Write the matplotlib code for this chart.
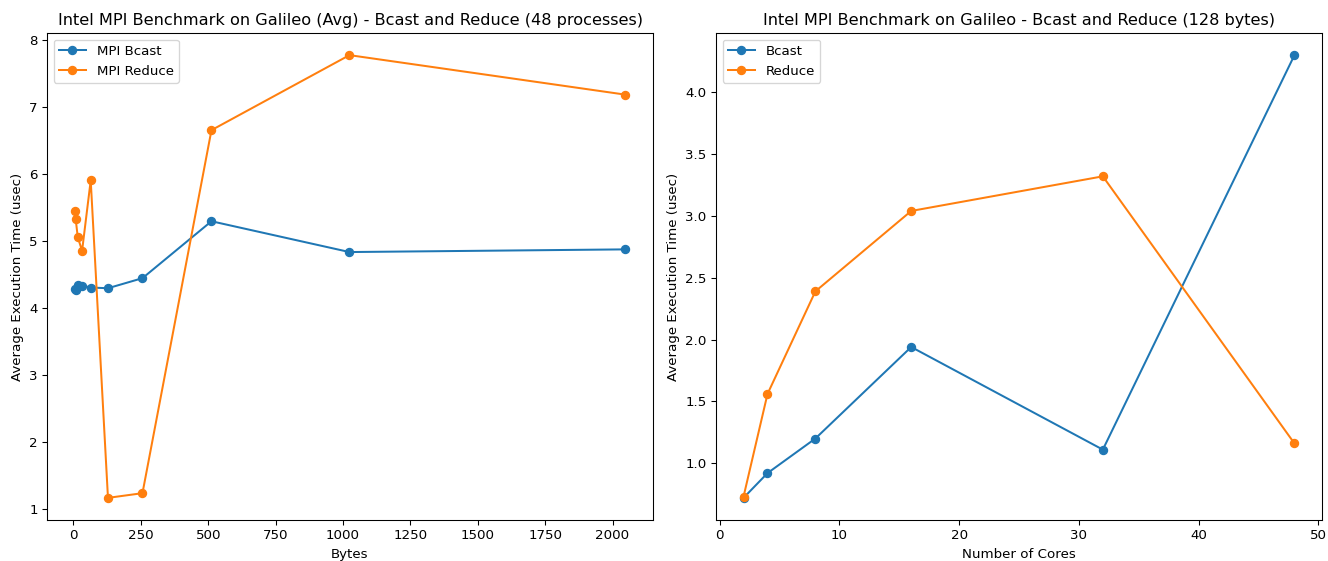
import matplotlib
matplotlib.use("Agg")
import matplotlib.pyplot as plt

# Left chart data
bytes_sizes = [4, 8, 16, 32, 64, 128, 256, 512, 1024, 2048]
bcast_avg = [4.29, 4.28, 4.35, 4.34, 4.31, 4.30, 4.45, 5.30, 4.84, 4.88]
reduce_avg = [5.46, 5.34, 5.06, 4.86, 5.91, 1.17, 1.24, 6.66, 7.78, 7.19]

# Right chart data
cores = [2, 4, 8, 16, 32, 48]
bcast_cores = [0.72, 0.92, 1.20, 1.94, 1.11, 4.30]
reduce_cores = [0.73, 1.56, 2.39, 3.04, 3.32, 1.16]

DPI = 96.5
W, H = 1328, 561
fig, (ax1, ax2) = plt.subplots(1, 2, figsize=(W / DPI, H / DPI), dpi=DPI)
fig.subplots_adjust(left=47 / W, right=1322 / W, top=1 - 33 / H, bottom=1 - 520 / H,
                    wspace=63 / 606)

ax1.plot(bytes_sizes, bcast_avg, marker='o', label='MPI Bcast')
ax1.plot(bytes_sizes, reduce_avg, marker='o', label='MPI Reduce')
ax1.set_title('Intel MPI Benchmark on Galileo (Avg) - Bcast and Reduce (48 processes)')
ax1.set_xlabel('Bytes')
ax1.set_ylabel('Average Execution Time (usec)')
ax1.legend(loc='upper left')

ax2.plot(cores, bcast_cores, marker='o', label='Bcast')
ax2.plot(cores, reduce_cores, marker='o', label='Reduce')
ax2.set_title('Intel MPI Benchmark on Galileo - Bcast and Reduce (128 bytes)')
ax2.set_xlabel('Number of Cores')
ax2.set_ylabel('Average Execution Time (usec)')
ax2.legend(loc='upper left')

fig.savefig('out.png', dpi=DPI)
